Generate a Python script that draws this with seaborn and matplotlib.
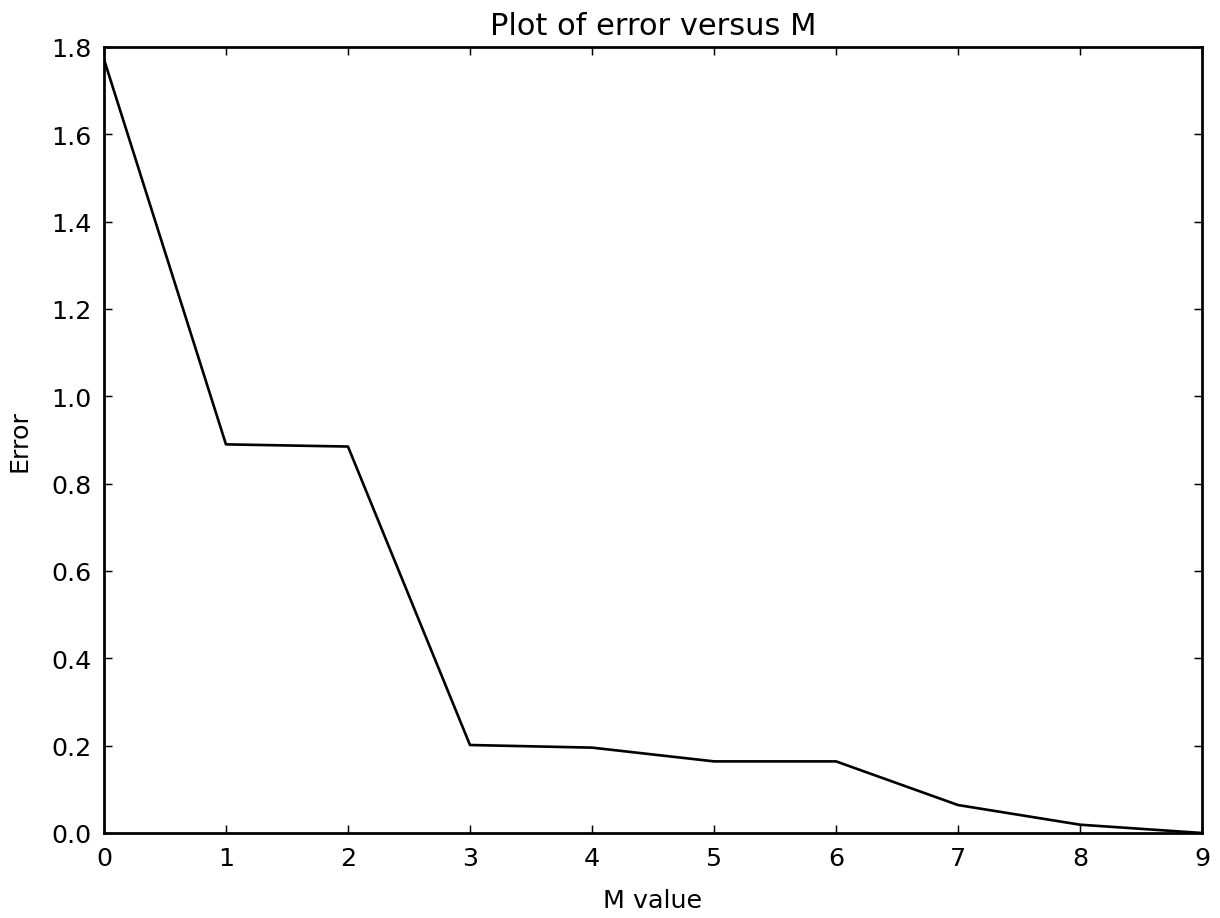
import matplotlib
matplotlib.use("Agg")
import matplotlib.pyplot as plt
import seaborn as sns
import pandas as pd

# Data
m_values = [0, 1, 2, 3, 4, 5, 6, 7, 8, 9]
errors = [1.772, 0.890, 0.885, 0.2015, 0.1955, 0.164, 0.164, 0.064, 0.019, 0.0]
x_ticks = [0, 1, 2, 3, 4, 5, 6, 7, 8, 9]
y_ticks = [0.0, 0.2, 0.4, 0.6, 0.8, 1.0, 1.2, 1.4, 1.6, 1.8]

df = pd.DataFrame({"M value": m_values, "Error": errors})

# Old matplotlib look: inward ticks on all four sides, white background
sns.set_style("white", {
    "xtick.direction": "in",
    "ytick.direction": "in",
    "axes.edgecolor": "black",
    "axes.labelcolor": "black",
    "text.color": "black",
})
plt.rcParams["font.family"] = ["DejaVu Sans"]
plt.rcParams.update({
    "xtick.top": True,
    "ytick.right": True,
    "xtick.bottom": True,
    "ytick.left": True,
    "xtick.major.size": 4,
    "ytick.major.size": 4,
    "xtick.major.width": 0.7,
    "ytick.major.width": 0.7,
    "axes.linewidth": 1.3,
    "xtick.labelsize": 12,
    "ytick.labelsize": 12,
    "axes.labelsize": 12,
    "axes.titlesize": 14.4,
})

fig, ax = plt.subplots(figsize=(8, 6.026), dpi=152.5)
fig.subplots_adjust(left=0.0852, right=0.9853, top=0.9478, bottom=0.0925)

sns.lineplot(data=df, x="M value", y="Error", color="black", linewidth=1.25, ax=ax)

ax.set_xlim(0, 9)
ax.set_ylim(0, 1.8)
ax.set_xticks(x_ticks)
ax.set_yticks(y_ticks)
ax.set_yticklabels([f"{v:.1f}" for v in y_ticks])
ax.tick_params(axis="both", which="major", pad=6, colors="black")
ax.set_title("Plot of error versus M", color="black")
ax.set_xlabel("M value", labelpad=8.5)
ax.set_ylabel("Error", labelpad=9)

fig.savefig("out.png", facecolor="white")
